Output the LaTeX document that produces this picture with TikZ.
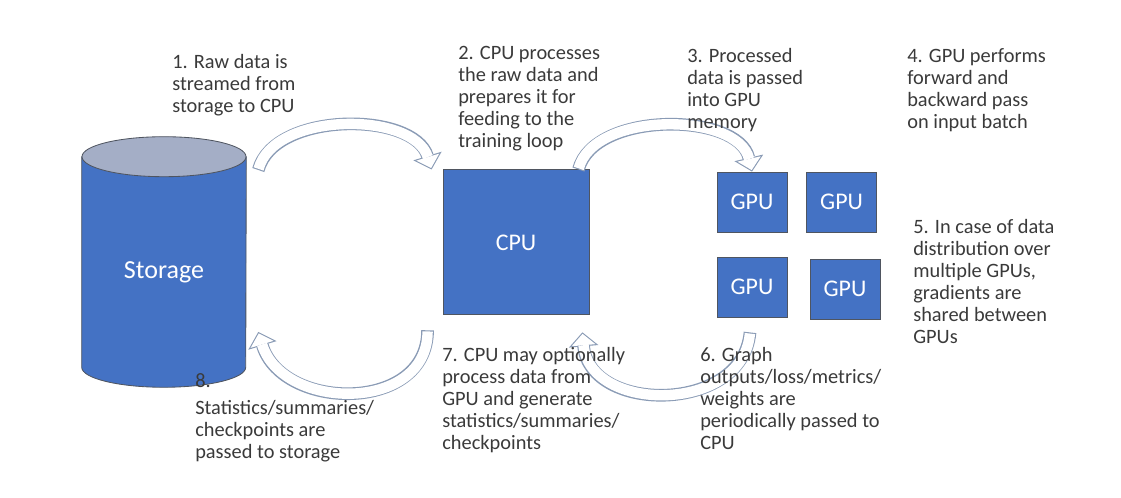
\documentclass[tikz,border=0pt]{standalone}
\usepackage{fontspec}
\setmainfont{Carlito}
\usepackage{tikz}
\usetikzlibrary{arrows.meta, backgrounds, calc}

\definecolor{boxblue}{HTML}{4472C4}
\definecolor{toplid}{HTML}{A4AEC6}
\definecolor{edgegray}{HTML}{4F5560}
\definecolor{flowgray}{HTML}{8A9BB5}
\definecolor{txtgray}{HTML}{3A3A3A}

\begin{document}
\begin{tikzpicture}[
  unit/.style={draw=edgegray, line width=0.6pt, fill=boxblue, text=white, font=\fontsize{17}{20}\selectfont},
  cpubox/.style={unit, minimum width=3.65cm, minimum height=3.625cm},
  gpubox/.style={unit, minimum width=1.75cm, minimum height=1.5cm},
  note/.style={anchor=north west, inner sep=0pt, align=left, text=txtgray, font=\fontsize{14.5}{15.6}\selectfont},
  flow/.style={line width=9pt, draw=flowgray, -{Triangle[length=10pt, width=21pt, line width=0pt]},
    postaction={draw=white, line width=7.4pt, shorten <=0.8pt, shorten >=1.1pt,
      -{Triangle[length=8.1pt, width=17pt, line width=0pt]}}},
]
\useasboundingbox (0,0) rectangle (28.025,12.45);

% ===== Storage (cylinder) =====
\node[minimum width=4.1cm, minimum height=4.75cm, text=white, font=\fontsize{18.5}{22}\selectfont] (storage) at (4.1,5.65) {Storage};
\begin{scope}[on background layer]
  \draw[edgegray, line width=0.6pt, fill=boxblue]
    ([yshift=5mm]storage.north west) -- (storage.south west)
    arc[start angle=180, end angle=360, x radius=2.05cm, y radius=0.5cm]
    -- ([yshift=5mm]storage.north east) -- cycle;
  \draw[edgegray, line width=0.6pt, fill=toplid]
    ([yshift=5mm]storage.north) ellipse[x radius=2.05cm, y radius=0.5cm];
\end{scope}

% ===== CPU and GPUs =====
\node[cpubox] (cpu) at (12.9,6.39) {CPU};
\node[gpubox] (gpu1) at (18.8,7.4) {GPU};
\node[gpubox] (gpu2) at (21.04,7.4) {GPU};
\node[gpubox] (gpu3) at (18.8,5.275) {GPU};
\node[gpubox] (gpu4) at (21.125,5.225) {GPU};

% ===== Data flow =====
\draw[flow] ([shift={(0.3,2.55)}]storage.east) to[out=75, in=107, looseness=0.9] ([xshift=-2.75mm]cpu.north west);
\draw[flow] ([xshift=-2.75mm]cpu.north east) to[out=75, in=103, looseness=0.9] (gpu1.north);
\draw[flow] ([shift={(-0.5mm,-3.75mm)}]gpu3.south) to[out=-95, in=-85, looseness=1.25] ([shift={(-1.75mm,-4.25mm)}]cpu.south east);
\draw[flow] ([shift={(-3.75mm,-3.75mm)}]cpu.south west) to[out=-90, in=-73, looseness=1.25] ([shift={(0.3,-1.5)}]storage.east);

% ===== Step notes =====
\node[note] (n1) at (4.3,11.1) {1. Raw data is\\streamed from\\storage to CPU};
\node[note] (n2) at (11.45,11.3) {2. CPU processes\\the raw data and\\prepares it for\\feeding to the\\training loop};
\node[note] (n3) at (17.175,11.25) {3. Processed\\data is passed\\into GPU\\memory};
\node[note] (n4) at (22.675,11.25) {4. GPU performs\\forward and\\backward pass\\on input batch};
\node[note] (n5) at (22.825,6.975) {5. In case of data\\distribution over\\multiple GPUs,\\gradients are\\shared between\\GPUs};
\node[note] (n6) at (17.5,3.775) {6. Graph\\outputs/loss/metrics/\\weights are\\periodically passed to\\CPU};
\node[note] (n7) at (11.05,3.775) {7. CPU may optionally\\process data from\\GPU and generate\\statistics/summaries/\\checkpoints};
\node[note] (n8) at (4.875,3.125) {8.\\[3.6pt]Statistics/summaries/\\checkpoints are\\passed to storage};

\end{tikzpicture}
\end{document}
